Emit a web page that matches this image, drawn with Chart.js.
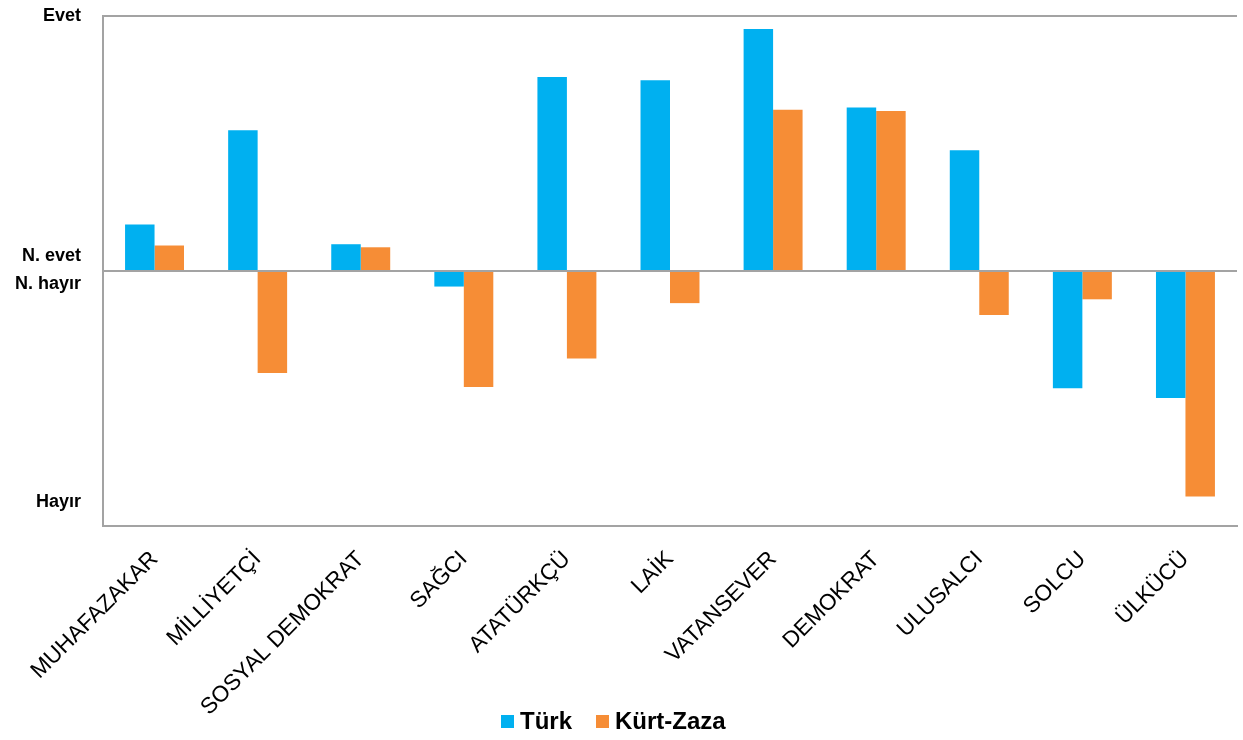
<!DOCTYPE html>
<html lang="tr">
<head>
    <meta charset="UTF-8">
    <title>Türk / Kürt-Zaza</title>
    <script src="https://cdn.jsdelivr.net/npm/chart.js"></script>
    <style>
        html, body { margin: 0; padding: 0; background: #fff; }
        .chart-box { position: relative; width: 1243px; height: 740px; }
        .legend {
            position: absolute; left: 501px; top: 709px;
            display: flex; align-items: center; gap: 24px;
            font-family: 'Liberation Sans', Arial, sans-serif; font-size: 24px; font-weight: bold;
            line-height: 24px; color: #000;
        }
        .legend-item { display: flex; align-items: center; gap: 6px; }
        .legend-swatch { width: 13px; height: 13px; display: inline-block; }
    </style>
</head>
<body>
    <div class="chart-box">
        <canvas id="barChart"></canvas>
        <div class="legend" id="legend"></div>
    </div>
    <script>
        // Data: +1 = Evet, 0 = neutral line, -1 = Hayır
        const categories = ['MUHAFAZAKAR', 'MİLLİYETÇİ', 'SOSYAL DEMOKRAT', 'SAĞCI', 'ATATÜRKÇÜ', 'LAİK',
            'VATANSEVER', 'DEMOKRAT', 'ULUSALCI', 'SOLCU', 'ÜLKÜCÜ'];
        const turkValues = [0.182, 0.552, 0.105, -0.061, 0.761, 0.748, 0.949, 0.641, 0.474, -0.460, -0.498];
        const kurtValues = [0.100, -0.400, 0.093, -0.455, -0.343, -0.126, 0.632, 0.627, -0.173, -0.111, -0.884];
        const seriesNames = ['Türk', 'Kürt-Zaza'];
        const seriesColors = ['#00b0f0', '#f68d36'];

        // y axis: tick positions and their texts (empty ones only carry a line)
        const yTickValues = [1, 0.058, 0, -0.052, -0.905, -1];
        const yTickLabels = ['Evet', 'N. evet', '', 'N. hayır', 'Hayır', ''];
        const yLineValues = [1, 0, -1];

        const lineColor = '#a3a3a3';

        new Chart(document.getElementById('barChart'), {
            type: 'bar',
            data: {
                labels: categories,
                datasets: [
                    { label: seriesNames[0], data: turkValues, backgroundColor: seriesColors[0] },
                    { label: seriesNames[1], data: kurtValues, backgroundColor: seriesColors[1] }
                ]
            },
            options: {
                responsive: true,
                maintainAspectRatio: false,
                animation: false,
                categoryPercentage: 0.572,
                barPercentage: 1,
                layout: { padding: { left: 15, right: 6, top: 16, bottom: 0 } },
                plugins: {
                    tooltip: { enabled: false },
                    legend: { display: false }
                },
                scales: {
                    x: {
                        grid: { color: 'transparent', drawTicks: false },
                        border: { color: lineColor, width: 2 },
                        ticks: {
                            minRotation: 45,
                            maxRotation: 45,
                            padding: 20,
                            color: '#000',
                            font: { family: 'Liberation Sans', size: 22.5 }
                        },
                        afterFit: axis => {
                            axis.height = 214;
                            axis.paddingLeft = 0;
                            axis.paddingRight = 0;
                        }
                    },
                    y: {
                        min: -1,
                        max: 1,
                        afterBuildTicks: axis => {
                            axis.ticks = yTickValues.map(v => ({ value: v }));
                        },
                        afterFit: axis => {
                            axis.width = 88;
                            axis.paddingTop = 0;
                            axis.paddingBottom = 0;
                        },
                        grid: {
                            drawTicks: false,
                            lineWidth: 2,
                            color: ctx => (ctx.tick && yLineValues.includes(ctx.tick.value)) ? lineColor : 'transparent'
                        },
                        border: { color: lineColor, width: 2 },
                        ticks: {
                            padding: 22,
                            color: '#000',
                            font: { family: 'Liberation Sans', size: 18, weight: 'bold' },
                            callback: (value, index) => yTickLabels[index]
                        }
                    }
                }
            }
        });

        // Legend under the chart
        const legend = document.getElementById('legend');
        seriesNames.forEach((name, i) => {
            const item = document.createElement('span');
            item.className = 'legend-item';
            item.innerHTML = `<span class="legend-swatch" style="background:${seriesColors[i]}"></span><span>${name}</span>`;
            legend.appendChild(item);
        });
    </script>
</body>
</html>
